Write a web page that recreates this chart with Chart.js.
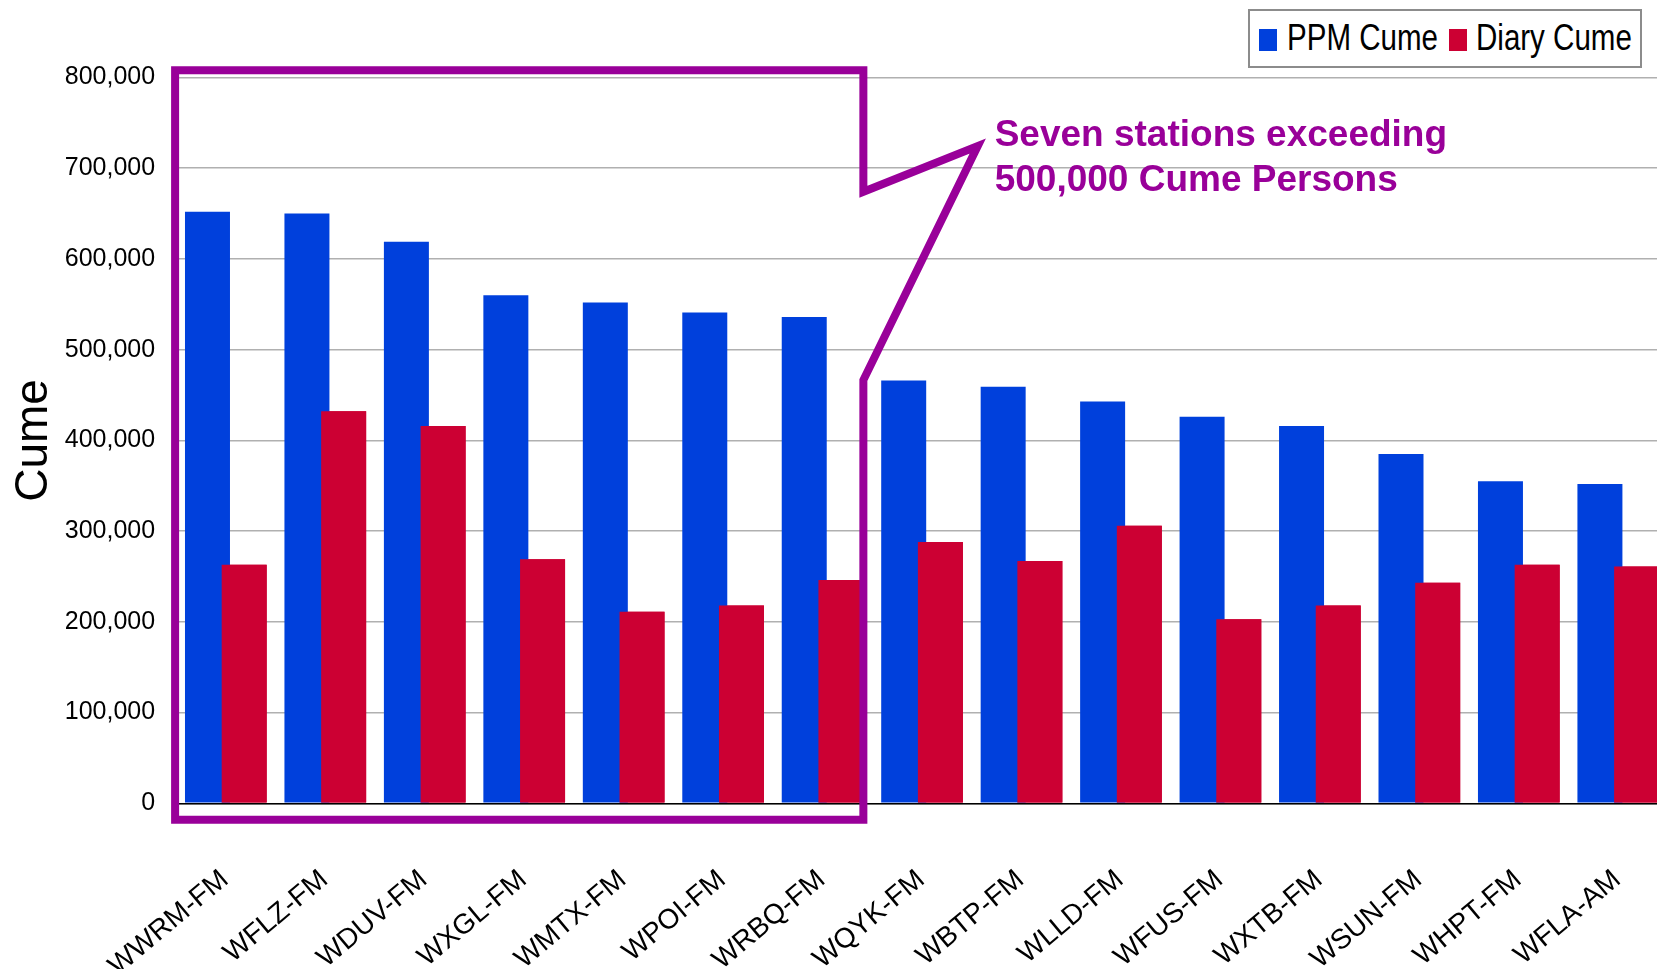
<!DOCTYPE html>
<html>
<head>
<meta charset="utf-8">
<title>PPM vs Diary Cume</title>
<script src="https://cdn.jsdelivr.net/npm/chart.js@4/dist/chart.umd.min.js"></script>
<style>
  html, body { margin: 0; padding: 0; background: #fff; overflow: hidden; }
  /* plot runs a little past the right edge in the original, so the canvas is wider than the window */
  #wrap { position: absolute; left: 0; top: 0; width: 1668px; height: 969px; }
  .legend {
    position: absolute; left: 1248px; top: 9px; width: 390px; height: 55px;
    border: 2px solid #8c8c8c; background: #fff;
    font-family: 'Liberation Sans', Arial, sans-serif;
  }
  .legend .sw { position: absolute; top: 18px; width: 18px; height: 22px; }
  .legend .lbl {
    position: absolute; top: 9px; font-size: 36px; line-height: 36px; color: #000;
    white-space: nowrap; transform: scaleX(0.82); transform-origin: left center;
  }
</style>
</head>
<body>
<div id="wrap"><canvas id="chart"></canvas></div>
<div class="legend" id="legend"></div>
<script>
// 电台名称
const stations = ['WWRM-FM', 'WFLZ-FM', 'WDUV-FM', 'WXGL-FM', 'WMTX-FM', 'WPOI-FM', 'WRBQ-FM', 'WQYK-FM',
  'WBTP-FM', 'WLLD-FM', 'WFUS-FM', 'WXTB-FM', 'WSUN-FM', 'WHPT-FM', 'WFLA-AM'];

// 两组数据
const ppmCume = [652000, 650000, 619000, 560000, 552000, 541000, 536000, 466000,
  459000, 443000, 426000, 416000, 385000, 355000, 352000];
const diaryCume = [263000, 432000, 416000, 269000, 211000, 218000, 246000, 288000,
  267000, 306000, 203000, 218000, 243000, 263000, 261000];

const seriesNames = ['PPM Cume', 'Diary Cume'];
const seriesColors = ['#0040DC', '#CC0033'];
const yMax = 800000;
const yStep = 100000;

// 注释框（类别索引, 数值）
const calloutPath = [[-0.51, 808000], [6.41, 808000], [6.41, 674000], [7.56, 724500],
  [6.41, 466500], [6.41, -18000], [-0.51, -18000]];
const calloutText = ['Seven stations exceeding', '500,000 Cume Persons'];
const calloutTextAt = [[7.73, 724800], [7.73, 675200]];
const purple = '#990099';

const FONT = "'Liberation Sans', Arial, sans-serif";
Chart.defaults.font.family = FONT;
Chart.defaults.color = '#000';

// 图例
const legend = document.getElementById('legend');
const legendX = [[9, 37], [199, 226]];
seriesNames.forEach((name, i) => {
  legend.insertAdjacentHTML('beforeend',
    `<div class="sw" style="left:${legendX[i][0]}px;background:${seriesColors[i]}"></div>` +
    `<span class="lbl" style="left:${legendX[i][1]}px">${name}</span>`);
});

// 红色柱子画在蓝色柱子上面
const redOnTop = {
  id: 'redOnTop',
  afterDatasetsDraw(chart) {
    const ctx = chart.ctx;
    ctx.save();
    chart.getDatasetMeta(1).data.forEach(bar => bar.draw(ctx));
    ctx.restore();
  }
};

const callout = {
  id: 'callout',
  afterDraw(chart) {
    const { ctx, scales: { x, y } } = chart;
    ctx.save();
    ctx.beginPath();
    calloutPath.forEach(([i, v], k) => {
      const px = x.getPixelForValue(i), py = y.getPixelForValue(v);
      if (k) ctx.lineTo(px, py); else ctx.moveTo(px, py);
    });
    ctx.closePath();
    ctx.lineWidth = 8;
    ctx.lineJoin = 'miter';
    ctx.strokeStyle = purple;
    ctx.stroke();

    ctx.fillStyle = purple;
    ctx.font = 'bold 37px ' + FONT;
    ctx.textAlign = 'left';
    ctx.textBaseline = 'alphabetic';
    calloutText.forEach((t, k) => {
      ctx.fillText(t, x.getPixelForValue(calloutTextAt[k][0]), y.getPixelForValue(calloutTextAt[k][1]));
    });
    ctx.restore();
  }
};

new Chart(document.getElementById('chart'), {
  type: 'bar',
  data: {
    labels: stations,
    datasets: [
      { label: seriesNames[0], data: ppmCume, backgroundColor: seriesColors[0] },
      { label: seriesNames[1], data: diaryCume, backgroundColor: seriesColors[1] }
    ]
  },
  options: {
    responsive: true,
    maintainAspectRatio: false,
    animation: false,
    categoryPercentage: 0.738,
    barPercentage: 1.226,
    layout: { padding: { top: 77.5, right: 0, bottom: 0, left: 0 } },
    plugins: {
      legend: { display: false },
      tooltip: { enabled: false }
    },
    scales: {
      x: {
        grid: { display: false, drawTicks: false },
        border: { display: true, color: '#000', width: 1.5, z: 1 },
        ticks: {
          autoSkip: false,
          minRotation: 40,
          maxRotation: 40,
          padding: 60,
          labelOffset: -1,
          font: { size: 28 },
          color: '#000'
        },
        afterFit(scale) {
          scale.height = 165.7;
          // 标签不要挤压绘图区
          scale.paddingLeft = 0;
          scale.paddingRight = 0;
        }
      },
      y: {
        min: 0,
        max: yMax,
        grid: { color: '#b0b0b0', lineWidth: 1.5, drawTicks: false },
        border: { display: false },
        ticks: {
          stepSize: yStep,
          padding: 21,
          font: { size: 25 },
          color: '#000',
          callback: v => v.toLocaleString('en-US')
        },
        title: {
          display: true,
          text: 'Cume',
          font: { size: 46 },
          color: '#000',
          padding: { top: 7, bottom: 0 }
        },
        afterFit(scale) { scale.width = 176.1; }
      }
    }
  },
  plugins: [redOnTop, callout]
});
</script>
</body>
</html>
